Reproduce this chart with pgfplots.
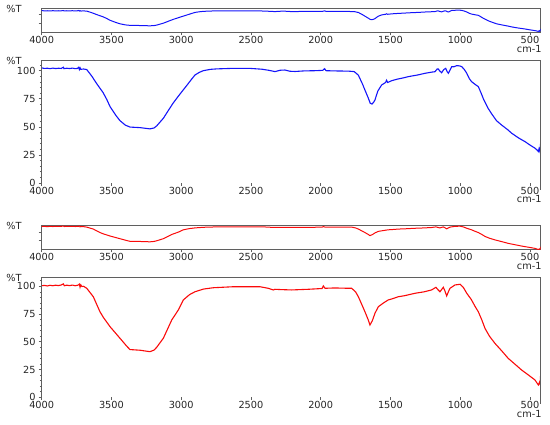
\documentclass[border=0pt]{standalone}
\usepackage{fontspec}
\setmainfont{DejaVu Sans}
\usepackage{pgfplots}
\pgfplotsset{compat=1.18}
\usepackage{pgfplotstable}
\definecolor{axg}{RGB}{95,95,95}
\definecolor{irblue}{RGB}{20,20,250}
\definecolor{irred}{RGB}{250,10,10}

\pgfplotstableread{
x y
4000 102.5
3980 102.0
3960 102.2
3940 101.8
3920 102.3
3900 101.9
3880 102.2
3860 102.0
3845 103.1
3840 101.8
3820 102.2
3800 101.9
3780 102.3
3760 101.8
3745 102.0
3735 103.0
3730 101.0
3725 102.6
3720 101.2
3700 101.5
3677 101.0
3640 95.0
3606 88.5
3560 80.5
3534 74.5
3510 68.0
3470 60.5
3439 55.5
3400 51.5
3367 49.8
3295 49.3
3224 48.2
3195 49.0
3176 50.8
3150 54.5
3128 57.6
3090 65.0
3057 71.3
3010 79.0
2961 86.7
2925 92.5
2901 96.2
2870 98.5
2842 100.0
2790 101.2
2746 101.6
2627 102.1
2500 102.0
2420 101.3
2370 100.3
2328 99.2
2290 100.4
2256 100.6
2220 99.5
2184 99.3
2120 99.8
2041 100.0
1985 100.3
1972 101.8
1962 100.0
1900 99.8
1800 99.6
1760 99.2
1730 96.0
1700 88.0
1683 82.8
1660 76.0
1645 71.0
1632 70.3
1620 72.0
1611 74.0
1590 82.0
1563 87.3
1535 89.5
1528 91.5
1520 89.5
1491 91.1
1450 92.5
1400 93.8
1372 94.7
1300 96.3
1252 97.7
1200 98.8
1181 99.1
1165 101.5
1157 101.5
1145 99.5
1133 98.2
1118 101.0
1104 102.1
1093 99.0
1085 97.7
1075 100.0
1061 103.6
1045 103.5
1025 104.5
1005 104.3
989 103.6
970 101.0
953 97.7
935 93.0
918 90.2
890 87.5
870 85.8
850 80.0
834 75.0
800 66.5
774 61.5
740 55.5
703 51.6
660 47.5
631 44.3
580 40.0
535 36.8
500 33.8
464 31.0
450 29.5
440 28.0
435 30.5
430 28.5
425 33.0
423 36.8
}\bluedata

\pgfplotstableread{
x y
4000 100.5
3980 100.8
3960 100.3
3940 100.9
3920 100.5
3900 101.0
3880 100.6
3860 101.2
3845 102.2
3838 100.5
3820 101.0
3800 100.6
3780 101.1
3760 100.5
3740 101.0
3730 102.0
3725 99.2
3720 101.3
3712 99.8
3700 100.0
3677 98.2
3630 90.6
3582 77.0
3558 72.0
3510 63.6
3439 53.2
3390 46.0
3367 43.0
3295 42.4
3224 41.1
3195 42.5
3176 45.0
3128 53.2
3068 69.6
3021 78.6
2985 87.7
2940 92.5
2901 95.1
2840 97.5
2770 98.7
2627 99.6
2435 99.6
2376 98.2
2340 96.7
2328 97.3
2280 97.0
2208 96.7
2150 97.0
2089 97.3
1990 98.0
1981 100.3
1969 98.2
1900 98.5
1800 98.2
1778 98.2
1750 95.0
1730 90.6
1700 82.0
1683 77.1
1660 70.0
1647 65.1
1630 69.0
1611 75.7
1587 81.6
1550 85.0
1516 87.7
1480 89.0
1444 90.6
1400 91.5
1324 93.7
1260 95.0
1205 96.7
1174 99.1
1160 97.0
1145 95.1
1121 99.1
1110 96.0
1097 91.3
1085 95.0
1073 98.2
1037 101.2
1001 101.8
978 99.1
953 93.7
920 88.0
894 82.0
870 77.0
846 70.0
822 62.0
790 55.0
751 48.6
700 41.5
656 35.1
600 29.0
560 24.6
510 20.0
464 15.6
440 11.1
432 13.5
428 12.0
425 17.0
423 21.6
}\reddata

\pgfplotsset{
  irbase/.style={
    scale only axis, width=499bp, anchor=south west,
    x dir=reverse, xmin=423, xmax=4000,
    xtick={500,1000,...,4000},
    tick align=outside, xtick pos=bottom, ytick pos=left,
    major tick length=3bp, minor tick length=1.8bp,
    every tick/.style={axg, line width=0.6bp},
    axis line style={axg, line width=0.7bp},
    /pgf/number format/assume math mode=true,
    /pgf/number format/1000 sep={},
    ticklabel style={font=\fontsize{9.8}{11}\selectfont, text=black!85},
    xticklabel style={inner sep=1.2bp},
    yticklabel style={inner sep=3bp},
    clip mode=individual,
  },
  irsmall/.style={irbase, height=24bp, yticklabels={}},
  irbig/.style={irbase, ymin=0, ytick={0,25,50,75,100},
    minor ytick={0,5,...,105},
    axis line style={draw=none}},
}

\newcommand{\pctT}{\node[anchor=east, inner sep=0pt, font=\fontsize{9.8}{11}\selectfont, text=black!85] at ([xshift=-20bp,yshift=-0.5bp]rel axis cs:0,1) {\%T};}
\newcommand{\cmlab}{\node[anchor=base east, font=\fontsize{9.8}{11}\selectfont, text=black!85, inner sep=0pt] at ([xshift=1bp,yshift=-20bp]rel axis cs:1,0) {cm-1};}
\newcommand{\bigframe}{\draw[axg, line width=0.7bp] (rel axis cs:0,0) -- (rel axis cs:0,1) -- (rel axis cs:1,1) -- ([yshift=-7bp]rel axis cs:1,0);}

\begin{document}
\begin{tikzpicture}
\path[use as bounding box] (0bp,0bp) rectangle (550bp,425bp);

% panel 1: small blue
\begin{axis}[irsmall, at={(41.7bp,392.7bp)}, ymin=25, ymax=111, ytick={55.6,87.7}]
  \addplot[irblue, line width=1bp] table {\bluedata};
  \pctT \cmlab
\end{axis}

% panel 2: big blue
\begin{axis}[irbig, at={(41.7bp,242bp)}, height=122.3bp, ymax=108.9]
  \addplot[irblue, line width=1.1bp] table {\bluedata};
  \bigframe \pctT \cmlab
\end{axis}

% panel 3: small red
\begin{axis}[irsmall, at={(41.7bp,175.7bp)}, height=24.3bp, ymin=12, ymax=106.4, ytick={45.8,78.8}]
  \addplot[irred, line width=1bp] table {\reddata};
  \pctT \cmlab
\end{axis}

% panel 4: big red
\begin{axis}[irbig, at={(41.7bp,27.7bp)}, height=120bp, ymax=108.1]
  \addplot[irred, line width=1.1bp] table {\reddata};
  \bigframe \pctT \cmlab
\end{axis}
\end{tikzpicture}
\end{document}
